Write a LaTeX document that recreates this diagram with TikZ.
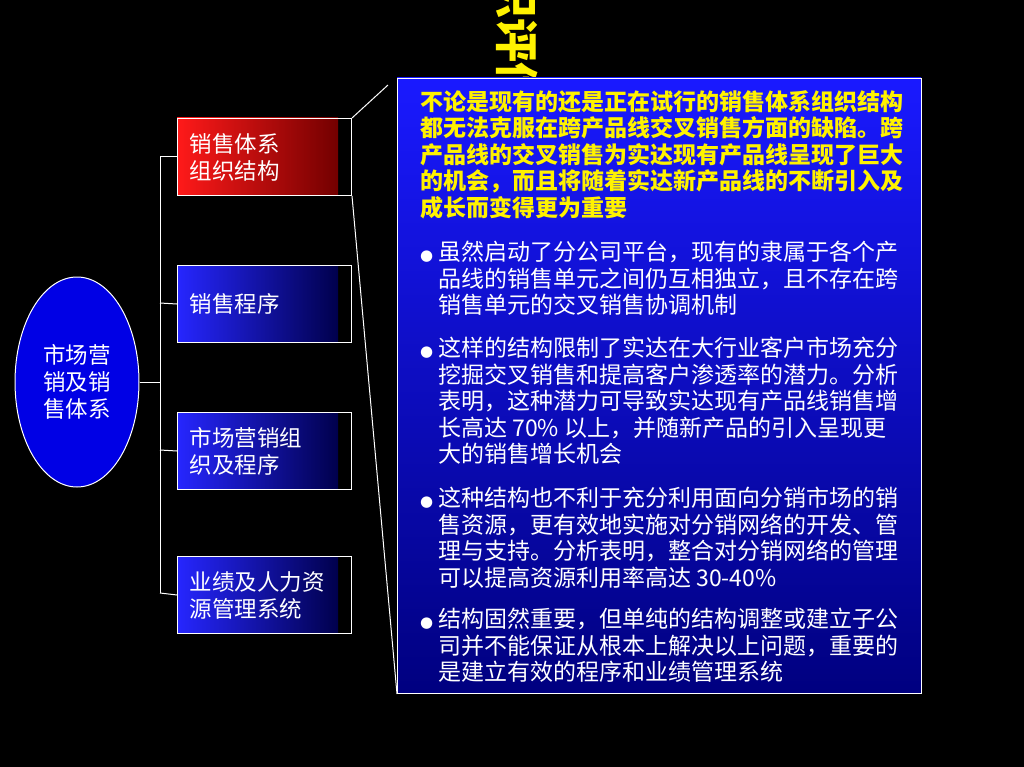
\documentclass[tikz,border=0pt]{standalone}
\usepackage{fontspec}
\setmainfont{Noto Sans CJK SC}
\newfontfamily\bulfont{DejaVu Sans}
\usetikzlibrary{shapes.geometric}
\newcommand{\mybul}{\makebox[18pt][l]{\bulfont\fontsize{15}{15}\selectfont ●}}
\begin{document}
\begin{tikzpicture}[x=1pt,y=-1pt,
 lbox/.style={draw=white,line width=1pt,minimum width=161pt,minimum height=77pt,text width=150pt,inner xsep=12pt,align=left,font=\fontsize{22.5}{27}\selectfont,text=white,anchor=north west},
 conn/.style={white,line width=1pt}]
\fill[black] (0,0) rectangle (1024,767);
\useasboundingbox (0,0) rectangle (1024,767);
\begin{scope}
\clip (0,0) rectangle (1024,78);
\node[rotate=-90,anchor=east,text=yellow,font=\bfseries\fontsize{44}{44}\selectfont] (ttl) at (517,110) {组织评估};
\end{scope}
\shade[left color=red!90!white,right color=red!45!black] (177,118) rectangle (338,195);
\node[lbox] (b1) at (177,118) {销售体系\\组织结构};
\shade[left color=blue!85!white,right color=blue!30!black] (177,265) rectangle (338,342);
\node[lbox] (b2) at (177,265) {\raisebox{-12pt}{销售程序}};
\shade[left color=blue!85!white,right color=blue!30!black] (177,412) rectangle (338,489);
\node[lbox] (b3) at (177,412) {市场营销组\\织及程序};
\shade[left color=blue!85!white,right color=blue!30!black] (177,556) rectangle (338,632);
\node[lbox] (b4) at (177,556) {业绩及人力资\\源管理系统};
\node[ellipse,draw=white,line width=1pt,fill=blue!90!black,minimum width=124pt,minimum height=210pt,text=white,align=center,font=\fontsize{22.5}{27}\selectfont] (e) at (77,382) {市场营\\销及销\\售体系};
\coordinate (j) at (160,382);
\draw[conn] (e.east) -- (j);
\draw[conn] (160,157) -- (160,593);
\draw[conn] (160,157) -- (b1.west);
\draw[conn] (160,303) -- (b2.west);
\draw[conn] (160,450) -- (b3.west);
\draw[conn] (160,593) -- (b4.west);
\shade[top color=blue!90!white,bottom color=blue!50!black] (397,78) rectangle (921,693);
\node[draw=white,line width=1pt,minimum width=524pt,minimum height=615pt,anchor=north west] (big) at (397,78) {};
\draw[conn] (b1.north east) -- (388,85);
\draw[conn] (b1.south east) -- (big.south west);
\node[anchor=north west,text=yellow,align=left,inner sep=0pt,font=\bfseries\fontsize{23}{26.5}\selectfont] (p0) at (420,90) {不论是现有的还是正在试行的销售体系组织结构\\都无法克服在跨产品线交叉销售方面的缺陷。跨\\产品线的交叉销售为实达现有产品线呈现了巨大\\的机会，而且将随着实达新产品线的不断引入及\\成长而变得更为重要};
\begin{scope}[every node/.style={anchor=north west,inner sep=0pt,text=white,align=left,font=\fontsize{23}{26.5}\selectfont}]
\node (p1) at (420,241) {\mybul 虽然启动了分公司平台，现有的隶属于各个产\\\hspace*{18pt}品线的销售单元之间仍互相独立，且不存在跨\\\hspace*{18pt}销售单元的交叉销售协调机制};
\node (p2) at (420,337) {\mybul 这样的结构限制了实达在大行业客户市场充分\\\hspace*{18pt}挖掘交叉销售和提高客户渗透率的潜力。分析\\\hspace*{18pt}表明，这种潜力可导致实达现有产品线销售增\\\hspace*{18pt}长高达 70\% 以上，并随新产品的引入呈现更\\\hspace*{18pt}大的销售增长机会};
\node (p3) at (420,487) {\mybul 这种结构也不利于充分利用面向分销市场的销\\\hspace*{18pt}售资源，更有效地实施对分销网络的开发、管\\\hspace*{18pt}理与支持。分析表明，整合对分销网络的管理\\\hspace*{18pt}可以提高资源利用率高达 30-40\%};
\node (p4) at (420,608) {\mybul 结构固然重要，但单纯的结构调整或建立子公\\\hspace*{18pt}司并不能保证从根本上解决以上问题，重要的\\\hspace*{18pt}是建立有效的程序和业绩管理系统};
\end{scope}
\end{tikzpicture}
\end{document}
